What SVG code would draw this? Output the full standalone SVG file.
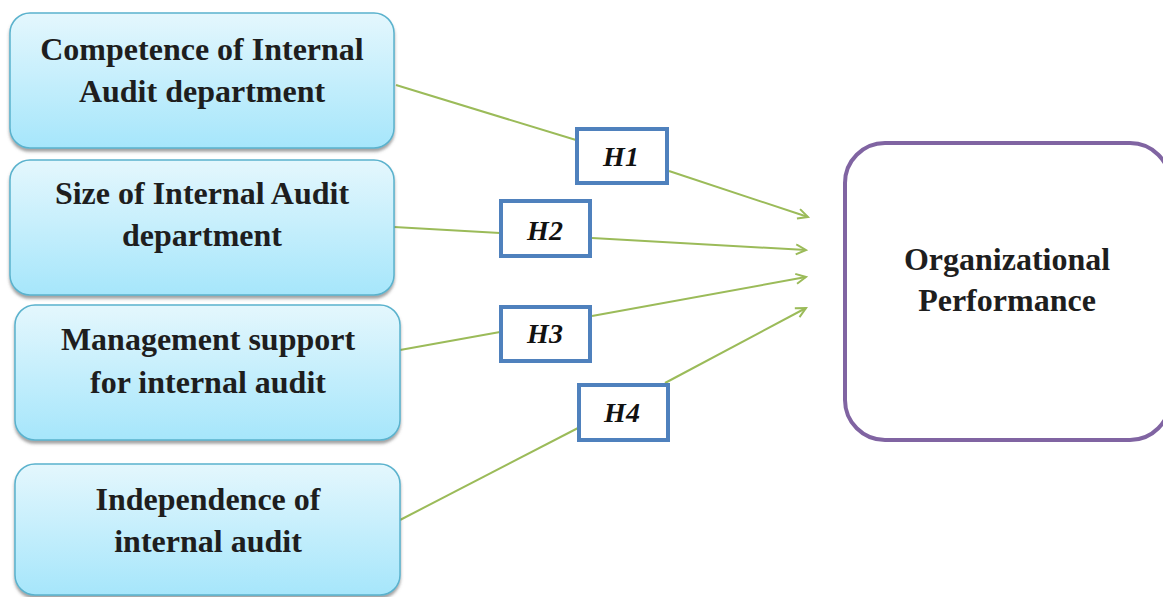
<svg xmlns="http://www.w3.org/2000/svg" width="1163" height="597" viewBox="0 0 1163 597">
  <style>
    .src { fill: url(#blueGrad); stroke: #5AB2CD; stroke-width: 1.5; filter: url(#shadow); }
    .srcText { font-family: "Liberation Serif", "Times New Roman", serif; font-weight: bold; font-size: 32px; fill: #1E1E1E; text-anchor: middle; }
    .hyp { fill: #FFFFFF; stroke: #4F81BD; stroke-width: 4; }
    .hypText { font-family: "Liberation Serif", "Times New Roman", serif; font-weight: bold; font-style: italic; font-size: 28px; fill: #111111; text-anchor: middle; }
    .conn { stroke: #9BBB59; stroke-width: 2; fill: none; }
    .tgt { fill: #FFFFFF; stroke: #8064A2; stroke-width: 4; }
  </style>
  <defs>
    <linearGradient id="blueGrad" x1="0" y1="0" x2="0" y2="1">
      <stop offset="0" stop-color="#E4F7FD"/>
      <stop offset="1" stop-color="#A6E6FB"/>
    </linearGradient>
    <filter id="shadow" x="-5%" y="-5%" width="110%" height="115%">
      <feDropShadow dx="0" dy="3" stdDeviation="1.5" flood-color="#555555" flood-opacity="0.55"/>
    </filter>
    <marker id="arrow" markerUnits="userSpaceOnUse" markerWidth="14" markerHeight="14" refX="11" refY="6" orient="auto">
      <path d="M1,1 L11,6 L1,11" fill="none" stroke="#9BBB59" stroke-width="2"/>
    </marker>
  </defs>
  <rect width="1163" height="597" fill="#FFFFFF"/>

  <g id="connectors">
    <line class="conn" x1="396" y1="85" x2="576" y2="140"/>
    <line class="conn" x1="669" y1="171" x2="808" y2="217" marker-end="url(#arrow)"/>
    <line class="conn" x1="394" y1="227" x2="500" y2="233"/>
    <line class="conn" x1="592" y1="238" x2="806" y2="250" marker-end="url(#arrow)"/>
    <line class="conn" x1="400" y1="350" x2="500" y2="332"/>
    <line class="conn" x1="592" y1="316" x2="806" y2="277" marker-end="url(#arrow)"/>
    <line class="conn" x1="400" y1="520" x2="578" y2="428"/>
    <line class="conn" x1="665" y1="383" x2="806" y2="308" marker-end="url(#arrow)"/>
  </g>

  <g id="node-competence">
    <rect class="src" x="10" y="13" width="384" height="135" rx="20"/>
    <text class="srcText" x="202" y="60">Competence of Internal</text>
    <text class="srcText" x="202" y="102">Audit department</text>
  </g>
  <g id="node-size">
    <rect class="src" x="10" y="160" width="384" height="135" rx="20"/>
    <text class="srcText" x="202" y="204">Size of Internal Audit</text>
    <text class="srcText" x="202" y="246">department</text>
  </g>
  <g id="node-management">
    <rect class="src" x="15" y="305" width="385" height="135" rx="20"/>
    <text class="srcText" x="208" y="350">Management support</text>
    <text class="srcText" x="208" y="393">for internal audit</text>
  </g>
  <g id="node-independence">
    <rect class="src" x="15" y="464" width="385" height="131" rx="20"/>
    <text class="srcText" x="208" y="510">Independence of</text>
    <text class="srcText" x="208" y="552">internal audit</text>
  </g>

  <g id="node-h1">
    <rect class="hyp" x="577" y="129" width="90" height="54"/>
    <text class="hypText" x="621" y="166">H1</text>
  </g>
  <g id="node-h2">
    <rect class="hyp" x="501" y="201" width="89" height="55"/>
    <text class="hypText" x="545" y="240">H2</text>
  </g>
  <g id="node-h3">
    <rect class="hyp" x="501" y="307" width="89" height="54"/>
    <text class="hypText" x="545" y="343">H3</text>
  </g>
  <g id="node-h4">
    <rect class="hyp" x="579" y="385" width="89" height="55"/>
    <text class="hypText" x="622" y="422">H4</text>
  </g>

  <g id="node-performance">
    <rect class="tgt" x="845" y="143" width="325" height="297" rx="40"/>
    <text class="srcText" x="1007" y="270">Organizational</text>
    <text class="srcText" x="1007" y="311">Performance</text>
  </g>
</svg>
